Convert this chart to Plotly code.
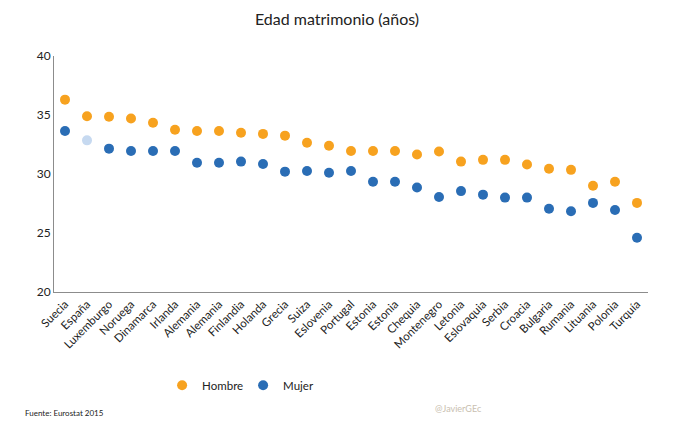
import plotly.graph_objects as go

paises = ["Suecia", "España", "Luxemburgo", "Noruega", "Dinamarca", "Irlanda", "Alemania", "Alemania ",
          "Finlandia", "Holanda", "Grecia", "Suiza", "Eslovenia", "Portugal", "Estonia", "Estonia ",
          "Chequia", "Montenegro", "Letonia", "Eslovaquia", "Serbia", "Croacia", "Bulgaria", "Rumania",
          "Lituania", "Polonia", "Turquía"]
hombre = [36.3, 34.9, 34.85, 34.7, 34.35, 33.75, 33.65, 33.65, 33.5, 33.4, 33.25, 32.65, 32.4, 31.95,
          31.95, 31.95, 31.65, 31.9, 31.05, 31.2, 31.2, 30.8, 30.45, 30.35, 29.0, 29.35, 27.55]
mujer = [33.65, 32.85, 32.15, 31.95, 31.95, 31.95, 30.95, 30.95, 31.05, 30.85, 30.2, 30.25, 30.1, 30.25,
         29.35, 29.35, 28.85, 28.05, 28.55, 28.25, 28.0, 28.0, 27.05, 26.85, 27.55, 26.95, 24.6]
tick_labels = [p.strip() for p in paises]

c_h = "#F7A21F"
c_m = "#2A6DB5"
c_m_light = "#C6D9F0"
mujer_colors = [c_m_light if p == "España" else c_m for p in paises]

font_family = "Lato, 'Noto Sans', sans-serif"

fig = go.Figure()
fig.add_trace(go.Scatter(x=paises, y=hombre, mode="markers", name="Hombre",
                         marker=dict(color=c_h, size=10)))
fig.add_trace(go.Scatter(x=paises, y=mujer, mode="markers", name="Mujer",
                         marker=dict(color=mujer_colors, size=10)))

fig.update_layout(
    width=674, height=431,
    margin=dict(l=46, r=34, t=48, b=147),
    plot_bgcolor="white", paper_bgcolor="white",
    font=dict(family=font_family, color="#222222", size=12),
    title=dict(text="Edad matrimonio (años)", x=(337-8)/674, xanchor="center", y=0.974, yanchor="middle",
               font=dict(size=16, color="#222222")),
    xaxis=dict(tickmode="array", tickvals=paises, ticktext=tick_labels, tickangle=-45,
               showgrid=False, showline=True, linecolor="#8c8c8c", linewidth=1, automargin=False,
               ticks="", tickfont=dict(size=11.5, color="#222222"), range=[-0.5, 26.5]),
    yaxis=dict(range=[20, 40], dtick=5, showgrid=False, showline=True, linecolor="#8c8c8c",
               linewidth=1, ticks="", zeroline=False, automargin=False,
               tickfont=dict(size=12, color="#222222")),
    legend=dict(orientation="h", x=0.182, xanchor="left", y=-0.395, yanchor="middle",
                font=dict(size=11.5, color="#222222"), entrywidth=36, itemwidth=30),
    showlegend=True,
)
fig.add_annotation(text="Fuente: Eurostat 2015", xref="paper", yref="paper", x=-54/594, xanchor="left",
                   y=(292-413)/236, yanchor="middle", showarrow=False, font=dict(size=8, color="#222222"),
                   xshift=23)
fig.add_annotation(text="@JavierGEc", xref="paper", yref="paper", x=(433-54)/594, xanchor="left",
                   y=(292-408)/236, yanchor="middle", showarrow=False, font=dict(size=9, color="#C9C0B0"))

fig.write_html("out.html")
